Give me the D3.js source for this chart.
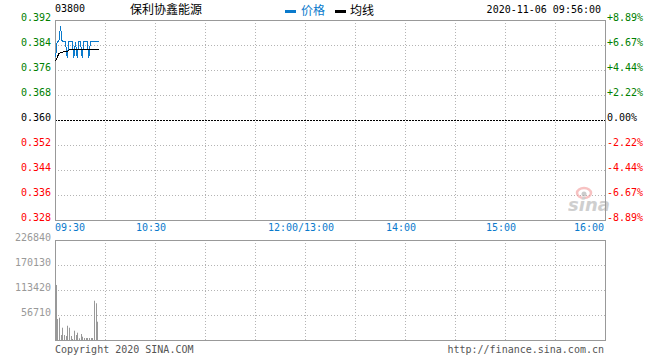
<!DOCTYPE html>
<html><head><meta charset="utf-8">
<script src="https://cdn.jsdelivr.net/npm/d3@7"></script>
<style>
html,body{margin:0;padding:0;background:#fff;}
svg text{font-family:"DejaVu Sans Mono",monospace;font-size:10px;}
</style></head>
<body>
<script>
// ---- data ----
const stockCode = "03800";
const stockName = "保利协鑫能源";
const timestamp = "2020-11-06 09:56:00";
const prevClose = 0.360;
const priceTicks = [0.392, 0.384, 0.376, 0.368, 0.360, 0.352, 0.344, 0.336, 0.328];
const pctLabels = ["+8.89%", "+6.67%", "+4.44%", "+2.22%", "0.00%", "-2.22%", "-4.44%", "-6.67%", "-8.89%"];
const volTicks = [226840, 170130, 113420, 56710];
const timeLabels = ["09:30", "10:30", "12:00/13:00", "14:00", "15:00", "16:00"];
const timeLabelMinutes = [0, 60, 150, 210, 270, 330];
// minute-by-minute from 09:30 (index = minutes since open)
const price = [0.380, 0.385, 0.385, 0.390, 0.385, 0.385, 0.385, 0.380, 0.385, 0.385,
               0.385, 0.380, 0.385, 0.380, 0.385, 0.385, 0.380, 0.385, 0.385, 0.385,
               0.380, 0.385, 0.385, 0.385, 0.385, 0.385, 0.385];
const avgPrice = [0.3788, 0.3800, 0.3812, 0.3815, 0.3817, 0.3818, 0.3818, 0.3818, 0.3824, 0.3826,
                  0.3826, 0.3826, 0.3826, 0.3826, 0.3826, 0.3826, 0.3826, 0.3826, 0.3826, 0.3826,
                  0.3826, 0.3826, 0.3826, 0.3826, 0.3826, 0.3826, 0.3826];
const volume = [124800, 47600, 50600, 11300, 27900, 11300, 9100, 32400, 27900, 9100,
                2300, 21100, 11300, 16600, 3900, 13600, 7500, 4500, 4500, 4500,
                4500, 4500, 4500, 89100, 83300, 41500];

// ---- layout ----
const W = 660, H = 360;
const L = 55, R = 605, T = 20, B = 220, VT = 240, VB = 340;
const GREEN = "#008000", RED = "#ff0000", BLUE = "#0a7acc", GRID = "#b4b4b4", FRAME = "#999";

const svg = d3.select("body").append("svg").attr("width", W).attr("height", H);

const x = d3.scaleLinear().domain([0, 330]).range([L, R]);
const y = d3.scaleLinear().domain([0.328, 0.392]).range([B, T]);
const yv = d3.scaleLinear().domain([0, 226840]).range([VB, VT]);

const crisp = v => Math.round(v) + 0.5;

// vertical grid (every 30 minutes)
const vgrid = d3.range(30, 330, 30);
svg.append("g").selectAll("line").data(vgrid).join("line")
  .attr("x1", d => crisp(x(d))).attr("x2", d => crisp(x(d)))
  .attr("y1", T).attr("y2", B)
  .attr("stroke", GRID).attr("stroke-dasharray", "1,2");
svg.append("g").selectAll("line").data(vgrid).join("line")
  .attr("x1", d => crisp(x(d))).attr("x2", d => crisp(x(d)))
  .attr("y1", VT).attr("y2", VB)
  .attr("stroke", GRID).attr("stroke-dasharray", "1,2");

// horizontal grid in price panel
svg.append("g").selectAll("line").data(priceTicks.slice(1, -1)).join("line")
  .attr("x1", L).attr("x2", R)
  .attr("y1", d => crisp(y(d))).attr("y2", d => crisp(y(d)))
  .attr("stroke", d => d === prevClose ? "#000" : GRID)
  .attr("stroke-dasharray", d => d === prevClose ? "2,1" : "1,2");

// horizontal grid in volume panel
svg.append("g").selectAll("line").data(volTicks.slice(1)).join("line")
  .attr("x1", L).attr("x2", R)
  .attr("y1", d => crisp(yv(d))).attr("y2", d => crisp(yv(d)))
  .attr("stroke", GRID).attr("stroke-dasharray", "1,2");

// watermark
const wm = svg.append("g").attr("opacity", 0.6);
wm.append("ellipse").attr("cx", 584).attr("cy", 193).attr("rx", 7).attr("ry", 5)
  .attr("fill", "none").attr("stroke", "#f29a9a").attr("stroke-width", 2.5);
wm.append("circle").attr("cx", 584).attr("cy", 194).attr("r", 2.5).attr("fill", "#aaa");
wm.append("text").attr("x", 568).attr("y", 211)
  .style("font-family", "DejaVu Sans").style("font-size", "18px")
  .style("font-style", "italic").style("font-weight", "bold")
  .attr("fill", "#b0b0b0").text("sina");

// frames
svg.append("rect").attr("x", L + 0.5).attr("y", T + 0.5).attr("width", R - L).attr("height", B - T)
  .attr("fill", "none").attr("stroke", FRAME);
svg.append("rect").attr("x", L + 0.5).attr("y", VT + 0.5).attr("width", R - L).attr("height", VB - VT)
  .attr("fill", "none").attr("stroke", FRAME);

// price labels (left) & pct labels (right)
const colorFor = d => d > prevClose ? GREEN : (d < prevClose ? RED : "#000");
svg.append("g").selectAll("text").data(priceTicks).join("text")
  .attr("x", 51).attr("y", d => y(d) + 1).attr("text-anchor", "end")
  .attr("fill", colorFor).text(d => d.toFixed(3));
svg.append("g").selectAll("text").data(priceTicks).join("text")
  .attr("x", 607).attr("y", d => y(d) + 1)
  .attr("fill", colorFor).text((d, i) => pctLabels[i]);

// volume labels
svg.append("g").selectAll("text").data(volTicks).join("text")
  .attr("x", 51).attr("y", d => yv(d) + 1).attr("text-anchor", "end")
  .attr("fill", "#999").text(d => d);

// time labels
svg.append("g").selectAll("text").data(timeLabels).join("text")
  .attr("x", (d, i) => {
    const m = timeLabelMinutes[i];
    if (i === 0) return x(m);
    if (i === timeLabels.length - 1) return x(m) - 1;
    return x(m) - 4;
  })
  .attr("y", 231)
  .attr("text-anchor", (d, i) => i === 0 ? "start" : (i === timeLabels.length - 1 ? "end" : "middle"))
  .attr("fill", BLUE).text(d => d);

// volume bars
svg.append("g").selectAll("rect").data(volume).join("rect")
  .attr("x", (d, i) => Math.floor(x(i)) + 1).attr("width", 1)
  .attr("y", d => yv(d)).attr("height", d => VB - yv(d))
  .attr("fill", "#999");

// price & average lines
const line = d3.line().x((d, i) => x(i) + 0.5).y(d => y(d));
svg.append("path").datum(price).attr("d", line)
  .attr("fill", "none").attr("stroke", BLUE).attr("stroke-width", 1)
  .attr("shape-rendering", "crispEdges");
svg.append("path").datum(avgPrice).attr("d", line)
  .attr("fill", "none").attr("stroke", "#000").attr("stroke-width", 1)
  .attr("shape-rendering", "crispEdges");

// header
svg.append("text").attr("x", 55).attr("y", 12).attr("fill", "#000").text(stockCode);
svg.append("text").attr("x", 130).attr("y", 14)
  .style("font-family", "'Noto Sans CJK SC'").style("font-size", "12px")
  .attr("fill", "#000").text(stockName);
svg.append("rect").attr("x", 285).attr("y", 10).attr("width", 11).attr("height", 3).attr("fill", BLUE);
svg.append("text").attr("x", 301).attr("y", 15)
  .style("font-family", "'Noto Sans CJK SC'").style("font-size", "12px")
  .attr("fill", BLUE).text("价格");
svg.append("rect").attr("x", 335).attr("y", 10).attr("width", 11).attr("height", 3).attr("fill", "#000");
svg.append("text").attr("x", 350).attr("y", 15)
  .style("font-family", "'Noto Sans CJK SC'").style("font-size", "12px")
  .attr("fill", "#000").text("均线");
svg.append("text").attr("x", 601).attr("y", 13).attr("text-anchor", "end")
  .attr("fill", "#000").text(timestamp);

// footer
svg.append("text").attr("x", 55).attr("y", 353).attr("fill", "#555").text("Copyright 2020 SINA.COM");
svg.append("text").attr("x", 604).attr("y", 353).attr("text-anchor", "end")
  .attr("fill", "#555").text("http://finance.sina.com.cn");
</script>
</body></html>
